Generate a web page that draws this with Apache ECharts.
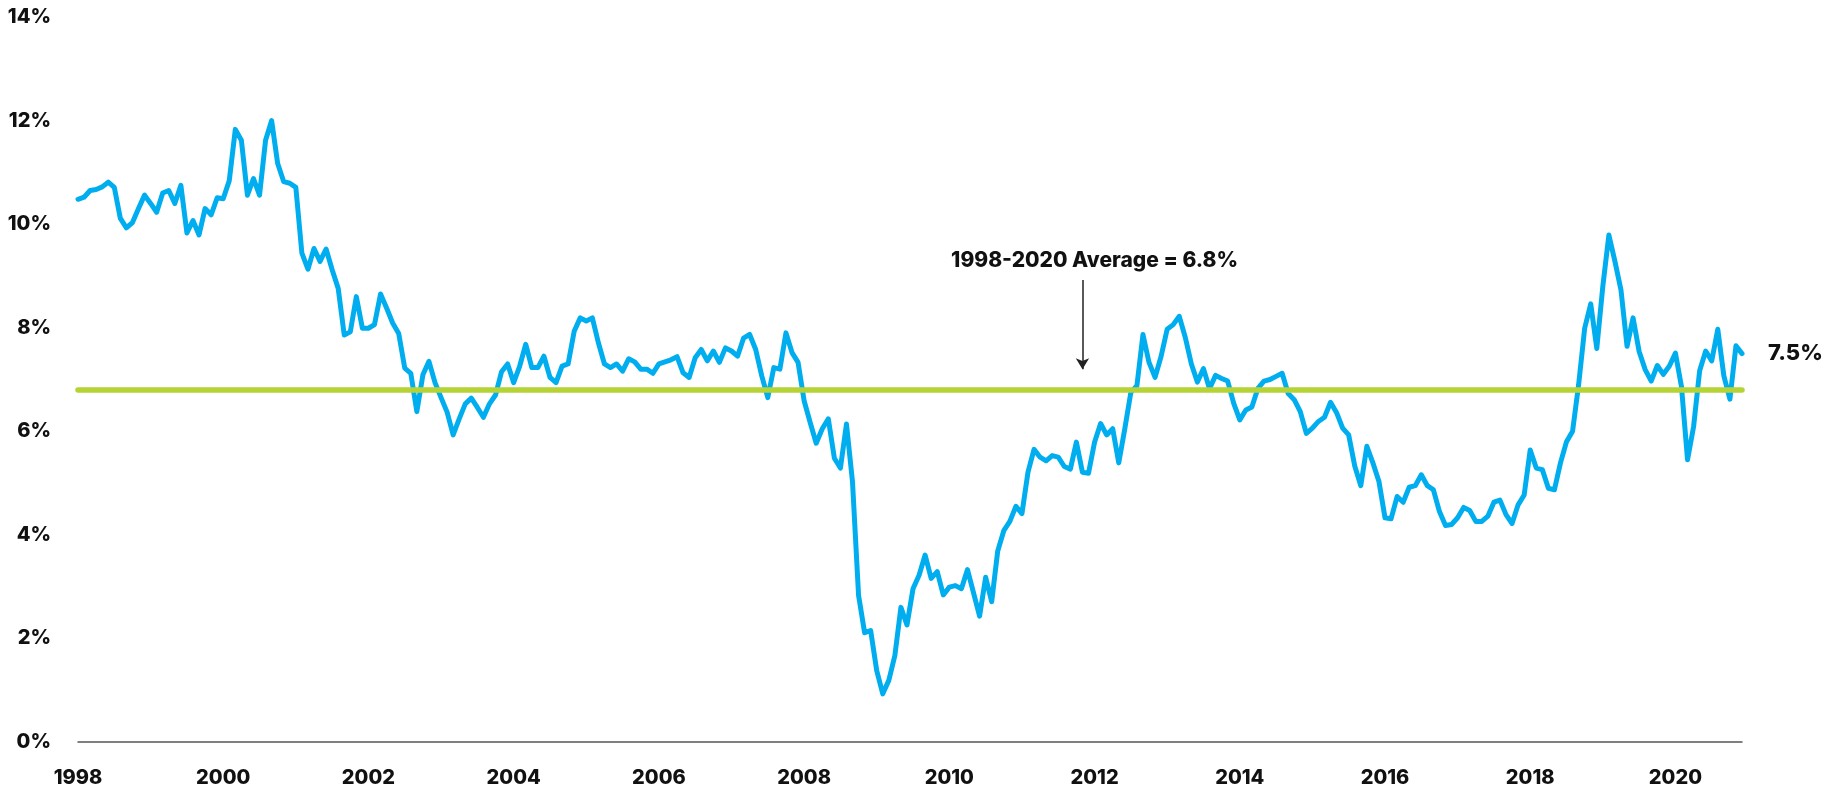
<!DOCTYPE html>
<html>
<head>
<meta charset="utf-8">
<title>1998-2020</title>
<script src="https://cdn.jsdelivr.net/npm/echarts@6/dist/echarts.min.js"></script>
<style>
  html, body { margin: 0; padding: 0; background: #fff; }
  #chart { width: 1835px; height: 792px; }
</style>
</head>
<body>
<div id="chart"></div>
<script>
// monthly values, Jan 1998 .. Dec 2020 (one row per year)
var rate = [
  10.48, 10.52, 10.65, 10.67, 10.72, 10.81, 10.71, 10.11, 9.93, 10.03, 10.30, 10.56, // 1998
  10.40, 10.23, 10.60, 10.65, 10.40, 10.75, 9.83, 10.07, 9.79, 10.30, 10.18, 10.51,  // 1999
  10.49, 10.84, 11.83, 11.62, 10.56, 10.88, 10.56, 11.62, 12.00, 11.17, 10.82, 10.79, // 2000
  10.71, 9.44, 9.13, 9.53, 9.28, 9.52, 9.12, 8.76, 7.86, 7.92, 8.60, 7.99,           // 2001
  7.99, 8.06, 8.65, 8.38, 8.09, 7.89, 7.22, 7.12, 6.38, 7.09, 7.35, 6.94,            // 2002
  6.65, 6.37, 5.93, 6.24, 6.53, 6.64, 6.46, 6.27, 6.53, 6.70, 7.15, 7.30,            // 2003
  6.94, 7.26, 7.68, 7.23, 7.23, 7.45, 7.04, 6.94, 7.26, 7.30, 7.93, 8.19,            // 2004
  8.13, 8.19, 7.71, 7.30, 7.23, 7.30, 7.16, 7.40, 7.34, 7.20, 7.20, 7.12,            // 2005
  7.30, 7.34, 7.38, 7.44, 7.13, 7.04, 7.42, 7.58, 7.36, 7.55, 7.33, 7.61,            // 2006
  7.55, 7.45, 7.80, 7.87, 7.58, 7.07, 6.65, 7.23, 7.20, 7.90, 7.52, 7.33,            // 2007
  6.59, 6.17, 5.77, 6.05, 6.24, 5.48, 5.29, 6.14, 5.02, 2.83, 2.11, 2.15,            // 2008
  1.38, 0.93, 1.19, 1.67, 2.60, 2.26, 2.96, 3.22, 3.61, 3.16, 3.29, 2.84,            // 2009
  2.99, 3.02, 2.96, 3.33, 2.88, 2.43, 3.18, 2.71, 3.69, 4.08, 4.26, 4.55,            // 2010
  4.41, 5.21, 5.65, 5.50, 5.43, 5.53, 5.50, 5.32, 5.27, 5.79, 5.21, 5.19,            // 2011
  5.79, 6.15, 5.93, 6.05, 5.39, 6.05, 6.75, 6.88, 7.87, 7.33, 7.04, 7.45,            // 2012
  7.97, 8.06, 8.22, 7.81, 7.30, 6.95, 7.21, 6.82, 7.08, 7.02, 6.97, 6.54,            // 2013
  6.22, 6.41, 6.47, 6.83, 6.97, 7.00, 7.06, 7.12, 6.73, 6.61, 6.38, 5.96,            // 2014
  6.06, 6.19, 6.27, 6.56, 6.36, 6.06, 5.93, 5.33, 4.95, 5.71, 5.39, 5.03,            // 2015
  4.33, 4.31, 4.74, 4.63, 4.92, 4.95, 5.16, 4.95, 4.87, 4.45, 4.18, 4.20,            // 2016
  4.33, 4.53, 4.47, 4.26, 4.26, 4.36, 4.63, 4.67, 4.39, 4.22, 4.58, 4.77,            // 2017
  5.64, 5.29, 5.26, 4.90, 4.87, 5.39, 5.80, 6.00, 6.90, 7.99, 8.46, 7.60,            // 2018
  8.80, 9.79, 9.28, 8.73, 7.64, 8.19, 7.54, 7.19, 6.97, 7.27, 7.10, 7.26,            // 2019
  7.51, 6.86, 5.45, 6.09, 7.17, 7.55, 7.36, 7.97, 7.07, 6.62, 7.65, 7.50             // 2020
];
var average = 6.8;
var avgText = '1998-2020 Average = 6.8%';
var firstYear = 1998, lastYear = 2020;

// month categories
var months = [];
for (var y = firstYear; y <= lastYear; y++) {
  for (var m = 1; m <= 12; m++) {
    months.push(y + '-' + (m < 10 ? '0' + m : m));
  }
}

var font = 'Inter, "Noto Sans", sans-serif';
var chart = echarts.init(document.getElementById('chart'), null, {renderer: 'canvas'});

chart.setOption({
  animation: false,
  backgroundColor: '#fff',
  grid: { left: 78, right: 93, top: 17, bottom: 50 },
  xAxis: {
    type: 'category',
    data: months,
    boundaryGap: false,
    axisLine: { lineStyle: { color: '#555', width: 1.5 } },
    axisTick: { show: false },
    axisLabel: {
      interval: function (i, v) {
        return v.slice(5) === '01' && (+v.slice(0, 4)) % 2 === 0;
      },
      formatter: function (v) { return v.slice(0, 4); },
      color: '#111', fontFamily: font, fontWeight: 800, fontSize: 20, margin: 26
    },
    splitLine: { show: false }
  },
  yAxis: {
    type: 'value',
    min: 0, max: 14, interval: 2,
    axisLine: { show: false },
    axisTick: { show: false },
    splitLine: { show: false },
    axisLabel: {
      formatter: '{value}%',
      color: '#111', fontFamily: font, fontWeight: 800, fontSize: 20, margin: 27
    }
  },
  series: [{
    type: 'line',
    data: rate,
    symbol: 'none',
    lineStyle: { color: '#00aeef', width: 5, cap: 'round', join: 'round' },
    endLabel: {
      show: true,
      distance: 26,
      formatter: function (p) { return p.value.toFixed(1) + '%'; },
      color: '#111', fontFamily: font, fontWeight: 800, fontSize: 22
    },
    markLine: {
      silent: true,
      symbol: 'none',
      label: { show: false },
      data: [
        { yAxis: average, lineStyle: { color: '#b5d334', width: 5.5, type: 'solid', cap: 'round' } },
        [
          { coord: ['2011-11', 8.92], symbol: 'none', lineStyle: { color: '#222', width: 1.5, type: 'solid' } },
          { coord: ['2011-11', 7.2], symbol: 'arrow', symbolSize: [10, 11] }
        ]
      ]
    },
    markPoint: {
      silent: true,
      symbolSize: 0,
      data: [{ coord: ['2012-01', 9.29] }],
      label: {
        show: true, position: 'inside',
        formatter: avgText,
        color: '#111', fontFamily: font, fontWeight: 800, fontSize: 21
      }
    }
  }]
});
</script>
</body>
</html>
